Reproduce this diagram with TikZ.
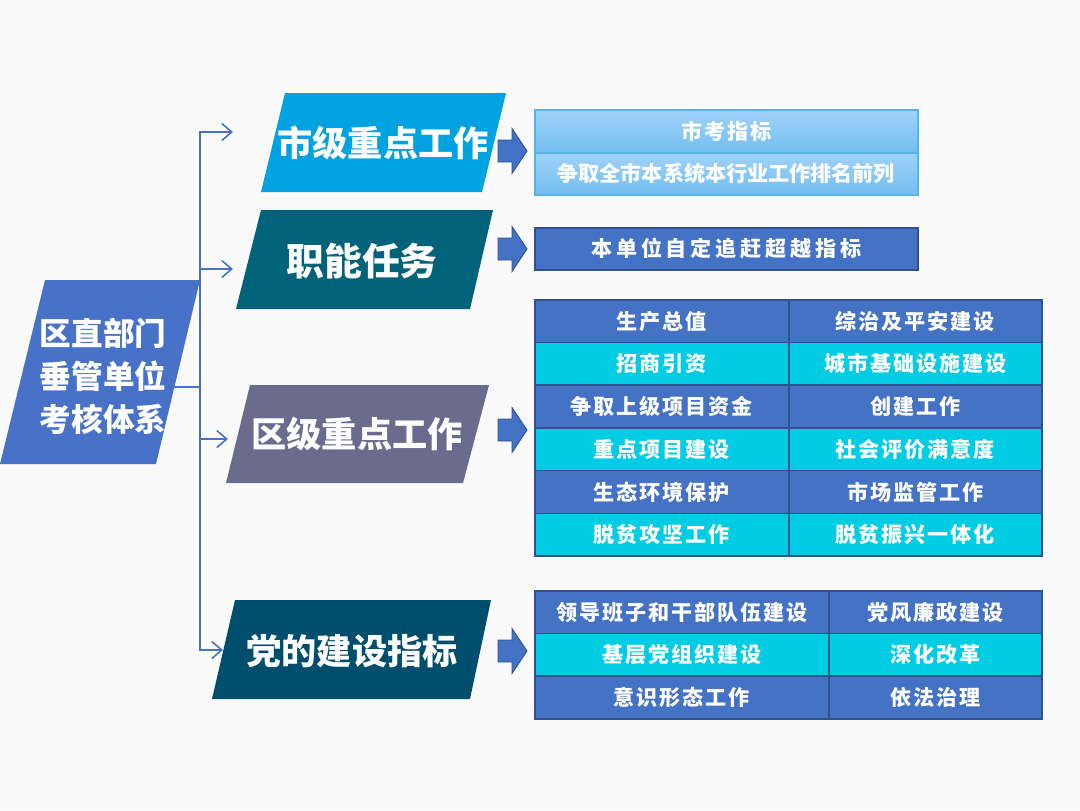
\documentclass[tikz,border=0pt]{standalone}
\usepackage{fontspec}
\setmainfont{Noto Sans CJK SC}
\usetikzlibrary{arrows.meta,positioning}

\definecolor{bgcol}{RGB}{250,250,251}
\definecolor{trunk}{RGB}{72,114,200}
\definecolor{cityblue}{RGB}{0,163,224}
\definecolor{dutyteal}{RGB}{0,99,121}
\definecolor{distgray}{RGB}{107,107,142}
\definecolor{partyblue}{RGB}{0,78,110}
\definecolor{cellblue}{RGB}{68,114,196}
\definecolor{cellcyan}{RGB}{0,204,228}
\definecolor{celledge}{RGB}{47,82,143}
\definecolor{skytop}{RGB}{160,210,250}
\definecolor{skybot}{RGB}{115,190,240}
\definecolor{skyedge}{RGB}{86,180,233}

\tikzset{
  big/.style={text=white,font=\bfseries\fontsize{20}{24}\selectfont},
  link/.style={draw=trunk,line width=0.9pt},
  cell/.style={draw=celledge,line width=0.9pt,text=white,inner sep=0pt,anchor=north west,
    font=\bfseries\fontsize{12}{14}\selectfont\addfontfeature{LetterSpace=9}},
  skybox/.style={cell,draw=skyedge,top color=skytop,bottom color=skybot},
  fat/.style={fill=cellblue,draw=celledge,line width=0.5pt}
}

\begin{document}
\begin{tikzpicture}[x=0.2mm,y=-0.2mm]
  \fill[bgcol] (0,0) rectangle (1080,810);

  % root box
  \fill[trunk] (45,280) -- (200,280) -- (156,464) -- (0,464) -- cycle;
  \node[text=white,align=center,font=\bfseries\fontsize{18}{24.5}\selectfont] (root) at (103,376)
    {区直部门\\垂管单位\\考核体系};

  % trunk and branches
  \coordinate (out) at (174,387);
  \coordinate (bus) at (200,387);
  \coordinate (e1) at (233,132);
  \coordinate (e2) at (233,269);
  \coordinate (e3) at (228,439);
  \coordinate (e4) at (223,650);
  \draw[link] (out) -- (bus);
  \foreach \e in {e1,e2,e3,e4}
    \draw[link,-{Straight Barb[length=2mm,width=3.4mm]}] (bus) |- (\e);

  % four categories
  \fill[cityblue] (285,93) -- (506,93) -- (482,192) -- (261,192) -- cycle;
  \node[big] (city) at (383,143) {市级重点工作};
  \fill[dutyteal] (261,210) -- (493,210) -- (470,309) -- (236,309) -- cycle;
  \node[big,font=\bfseries\fontsize{21.5}{24}\selectfont] (duty) at (362,261) {职能任务};
  \fill[distgray] (250,385) -- (489,385) -- (463,483) -- (226,483) -- cycle;
  \node[big] (dist) at (357,434) {区级重点工作};
  \fill[partyblue] (235,600) -- (491,600) -- (470,699) -- (212,699) -- cycle;
  \node[big] (party) at (352,651) {党的建设指标};

  % block arrows
  \foreach \y in {151,249,430,651}
    \filldraw[fat] (498,\y) ++(0,-11) -- ++(14,0) -- ++(0,-11.5) -- ++(15,22.5)
      -- ++(-15,22.5) -- ++(0,-11.5) -- ++(-14,0) -- cycle;

  % city items
  \node[skybox,minimum width=76.6mm,minimum height=8.6mm] (exam) at (534,109) {市考指标};
  \node[skybox,minimum width=76.6mm,minimum height=8.4mm,
    font=\bfseries\fontsize{12}{14}\selectfont] (rank) at (534,152)
    {争取全市本系统本行业工作排名前列};

  % duty item
  \node[cell,fill=cellblue,minimum width=76.6mm,minimum height=8.4mm,
    font=\bfseries\fontsize{12}{14}\selectfont\addfontfeature{LetterSpace=18}] (self) at (534,227)
    {本单位自定追赶超越指标};

  % district table
  \foreach \txtl/\txtr/\col [count=\i from 0] in {
      生产总值/综治及平安建设/cellblue,
      招商引资/城市基础设施建设/cellcyan,
      争取上级项目资金/创建工作/cellblue,
      重点项目建设/社会评价满意度/cellcyan,
      生态环境保护/市场监管工作/cellblue,
      脱贫攻坚工作/脱贫振兴一体化/cellcyan} {
    \node[cell,fill=\col,minimum width=50.8mm,minimum height=8.54mm] (dl\i) at (534,{299+42.7*\i}) {\txtl};
    \node[cell,fill=\col,minimum width=50.6mm,minimum height=8.54mm] (dr\i) at (788,{299+42.7*\i}) {\txtr};
  }

  % party table
  \foreach \txtl/\txtr/\col [count=\i from 0] in {
      领导班子和干部队伍建设/党风廉政建设/cellblue,
      基层党组织建设/深化改革/cellcyan,
      意识形态工作/依法治理/cellblue} {
    \node[cell,fill=\col,minimum width=58.8mm,minimum height=8.54mm] (pl\i) at (534,{590+42.7*\i}) {\txtl};
    \node[cell,fill=\col,minimum width=42.6mm,minimum height=8.54mm] (pr\i) at (828,{590+42.7*\i}) {\txtr};
  }
\end{tikzpicture}
\end{document}
